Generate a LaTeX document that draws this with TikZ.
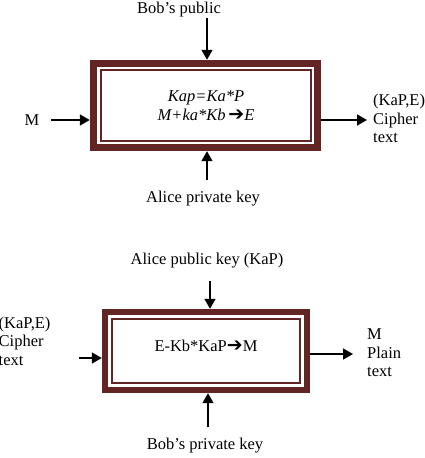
\documentclass[tikz,border=0pt]{standalone}
\usepackage{fontspec}
\setmainfont{Liberation Serif}
\newfontfamily\arrowfont{DejaVu Sans}
\newcommand{\thickarrow}{{\arrowfont\upshape\fontsize{19}{19}\selectfont ➔}}
\usetikzlibrary{arrows.meta,calc}
\definecolor{maroon}{HTML}{632523}
\begin{document}
\begin{tikzpicture}[x=1pt,y=-1pt,
  lbl/.style={font=\fontsize{16.5}{18.5}\selectfont,inner sep=0pt},
  sidelbl/.style={lbl,align=left,anchor=west},
  frame/.style={fill=maroon,draw=none,inner sep=0pt},
  arr/.style={line width=1.6pt,-{Triangle[length=10pt,width=11pt]}},
  thinline/.style={draw=maroon,line width=2pt}
]
\useasboundingbox (0,0) rectangle (424,458);
% ---------- top (encryption) ----------
\node[frame,minimum width=231pt,minimum height=91pt] (enc) at (205.5,105.5) {};
\fill[white] ($(enc.north west)+(7,7)$) rectangle ($(enc.south east)+(-7,-7)$);
\draw[thinline] ($(enc.north west)+(11,10)$) rectangle ($(enc.south east)+(-10,-10)$);
\node[lbl,align=center,font=\fontsize{16.5}{19}\selectfont\itshape] (enctxt) at (206,105.5) {Kap=Ka*P\\M+ka*Kb\,\thickarrow E};
\node[lbl] (bobpub) at (179,10) {Bob’s public};
\node[lbl] (M) at (32,120) {M};
\node[lbl] (alicepriv) at (203,199) {Alice private key};
\node[sidelbl] (cipher1) at (373,118.5) {(KaP,E)\\Cipher\\text};
\coordinate (t1) at (207,18);
\coordinate (b1) at (207,180);
\coordinate (l1) at (51,120);
\coordinate (r1) at (367,120);
\draw[arr] (t1) -- (t1 |- enc.north);
\draw[arr] (b1) -- (b1 |- enc.south);
\draw[arr] (l1) -- (l1 -| enc.west);
\draw[arr] (r1 -| enc.east) -- (r1);
% ---------- bottom (decryption) ----------
\node[frame,minimum width=208pt,minimum height=84pt] (dec) at (206,351) {};
\fill[white] ($(dec.north west)+(6,6)$) rectangle ($(dec.south east)+(-6,-6)$);
\draw[thinline] ($(dec.north west)+(10.5,10)$) rectangle ($(dec.south east)+(-10,-10)$);
\node[lbl] (dectxt) at (206,346) {E-Kb*KaP\thickarrow M};
\node[lbl] (alicepub) at (207,261) {Alice public key (KaP)};
\node[lbl] (bobpriv) at (205,446) {Bob’s private key};
\node[sidelbl] (cipher2) at (-1.5,341) {(KaP,E)\\Cipher\\text};
\node[sidelbl] (plain) at (367,353) {M\\Plain\\text};
\coordinate (t2) at (210,281);
\coordinate (b2) at (208,427);
\coordinate (l2) at (79,358);
\coordinate (r2) at (353,354);
\draw[arr] (t2) -- (t2 |- dec.north);
\draw[arr] (b2) -- (b2 |- dec.south);
\draw[arr] (l2) -- (l2 -| dec.west);
\draw[arr] (r2 -| dec.east) -- (r2);
\end{tikzpicture}
\end{document}
